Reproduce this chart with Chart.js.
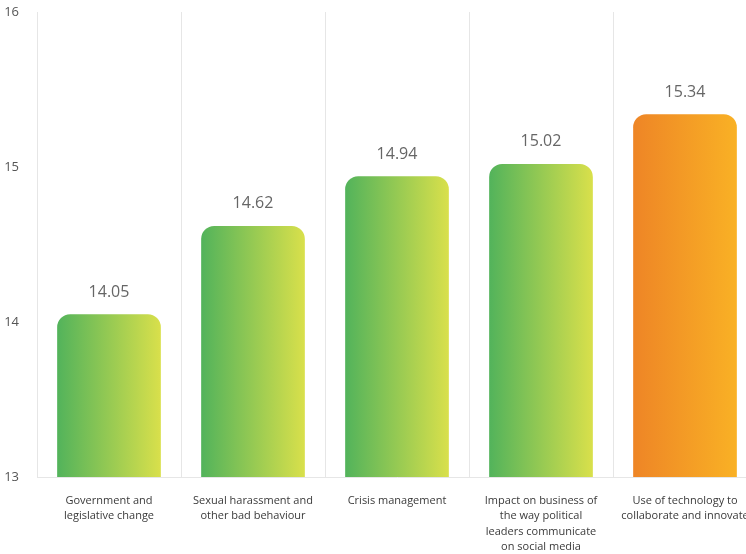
<!DOCTYPE html>
<html lang="en">
<head>
<meta charset="UTF-8" />
<title>Issue scores</title>
<script src="https://cdn.jsdelivr.net/npm/chart.js@4.4.0/dist/chart.umd.min.js"></script>
<style>
  html,body{margin:0;padding:0;background:#fff;overflow:hidden}
  .wrap{position:relative;width:759px;height:554px}
</style>
</head>
<body>
<div class="wrap"><canvas id="c"></canvas></div>
<script>
// data
const categories = [
  ['Government and', 'legislative change'],
  ['Sexual harassment and', 'other bad behaviour'],
  ['Crisis management'],
  ['Impact on business of', 'the way political', 'leaders communicate', 'on social media'],
  ['Use of technology to', 'collaborate and innovate']
];
const scores = [14.05, 14.62, 14.94, 15.02, 15.34];
const highlight = [false, false, false, false, true];
const yTicks = [13, 14, 15, 16];

const GREEN = ['#52b35b', '#d9e04b'], ORANGE = ['#ee8526', '#f9b125'];
const FONT = '"Open Sans", sans-serif';

// horizontal gradient across each bar
function barFill(ctx) {
  const chart = ctx.chart;
  if (!chart.chartArea || ctx.type !== 'data') return GREEN[0];
  const x = chart.scales.x, i = ctx.dataIndex;
  const half = x.width / categories.length * 0.72 / 2;
  const cx = x.getPixelForValue(i);
  const cols = highlight[i] ? ORANGE : GREEN;
  const g = chart.ctx.createLinearGradient(cx - half, 0, cx + half, 0);
  g.addColorStop(0, cols[0]); g.addColorStop(1, cols[1]);
  return g;
}

// value labels above bars
const valueLabels = {
  id: 'valueLabels',
  afterDatasetsDraw(chart) {
    const ctx = chart.ctx;
    ctx.save();
    ctx.font = '16px ' + FONT;
    ctx.fillStyle = '#666';
    ctx.textAlign = 'center';
    ctx.textBaseline = 'middle';
    chart.getDatasetMeta(0).data.forEach((bar, i) => {
      ctx.fillText(scores[i].toFixed(2), bar.x, bar.y - 22);
    });
    ctx.restore();
  }
};

new Chart(document.getElementById('c'), {
  type: 'bar',
  data: {
    labels: categories,
    datasets: [{
      data: scores,
      backgroundColor: barFill,
      borderRadius: 13,
      borderSkipped: false,
      barPercentage: 0.72,
      categoryPercentage: 1
    }]
  },
  options: {
    responsive: true,
    maintainAspectRatio: false,
    animation: false,
    layout: { padding: { top: 12, right: 2, left: 0, bottom: 0 } },
    plugins: { legend: { display: false }, tooltip: { enabled: false } },
    scales: {
      x: {
        grid: { color: '#e6e6e6', offset: true, drawTicks: false },
        border: { color: '#e6e6e6' },
        ticks: {
          font: { family: FONT, size: 11, lineHeight: 1.4 },
          color: '#3a3a3a', padding: 16, maxRotation: 0, autoSkip: false
        },
        // let the last label run off the edge like the original
        afterFit(s) { s.height = 77; s.paddingLeft = 0; s.paddingRight = 0; }
      },
      y: {
        min: 13, max: 16,
        afterBuildTicks(s) { s.ticks = yTicks.map(v => ({ value: v })); },
        grid: { display: false },
        border: { color: '#e6e6e6' },
        ticks: { font: { family: FONT, size: 13 }, color: '#555', padding: 10 },
        afterFit(s) { s.width = 37; s.paddingTop = 0; s.paddingBottom = 0; }
      }
    }
  },
  plugins: [valueLabels]
});
</script>
</body>
</html>
